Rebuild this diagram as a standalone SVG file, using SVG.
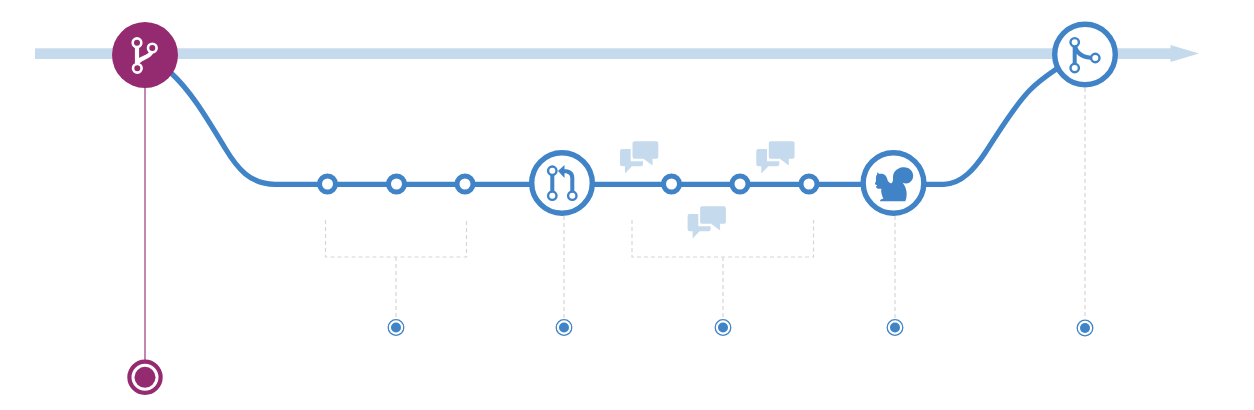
<svg xmlns="http://www.w3.org/2000/svg" width="1254" height="410" viewBox="0 0 1254 410">
<style>
.flow{fill:none;stroke:#4083c7;stroke-width:5.2}
.guide{fill:none;stroke:#d6d6d6;stroke-width:1.2;stroke-dasharray:4 3}
.commit{fill:#fff;stroke:#4083c7;stroke-width:5}
.big{fill:#fff;stroke:#4083c7;stroke-width:5.4}
.icon{fill:none;stroke:#4083c7;stroke-width:4}
.port{fill:#fff;stroke:#4083c7;stroke-width:2.400}
.chat{fill:#c6daee}
.ring{fill:#fff;stroke:#4083c7;stroke-width:1.3}
.dot{fill:#4083c7}
</style>
<defs>
<g id="chat">
<path class="chat" d="M622 149H630.700V161.300H643V164.300a2 2 0 0 1-2 2H632L625 173.500V166.300H622a2 2 0 0 1-2-2V151a2 2 0 0 1 2-2Z"/>
<path class="chat" d="M634.500 141.300H656.300a2 2 0 0 1 2 2V156.700a2 2 0 0 1-2 2H652.500V165.500L643.500 158.700H634.500a2 2 0 0 1-2-2V143.300a2 2 0 0 1 2-2Z"/>
</g>
</defs>
<g id="trunk">
<rect x="35" y="48.300" width="1137" height="10.700" fill="#c6daee"/>
<path d="M1170.500 45L1199 53.500L1170.500 62Z" fill="#c6daee"/>
</g>
<g id="connectors">
<path class="flow" d="M170 72C190 90 205 115 225 148C237 168 250 184.300 275 184.300H530"/>
<path class="flow" d="M594 184.300H862"/>
<path class="flow" d="M925 184.300H944C962 184 975 168 985 153C1000 130 1015 105 1030 90C1040 80 1048 75 1058 68"/>
<path d="M145 86V360" fill="none" stroke="#b5689f" stroke-width="1.600"/>
<path class="guide" d="M325.500 220V257H466.500V220M396 257V318"/>
<path class="guide" d="M632 220V257H813.500V220M723 257V318"/>
<path class="guide" d="M564 216V318"/>
<path class="guide" d="M895 216V318"/>
<path class="guide" d="M1085 88V319"/>
</g>
<g id="branch-node">
<circle cx="145" cy="55" r="33" fill="#942a6f"/>
<path d="M137 43V68M137 65C137 56 152 60 152.300 48" fill="none" stroke="#fff" stroke-width="4.200"/>
<circle cx="137" cy="42.700" r="4.300" fill="#942a6f" stroke="#fff" stroke-width="2.600"/>
<circle cx="152.300" cy="48" r="4.300" fill="#942a6f" stroke="#fff" stroke-width="2.600"/>
<circle cx="137.300" cy="68.300" r="4.300" fill="#942a6f" stroke="#fff" stroke-width="2.600"/>
</g>
<g id="merge-node">
<circle class="big" cx="1085" cy="54.500" r="30.300"/>
<path class="icon" d="M1074.700 42V68M1075 46C1077 55 1084 58 1095 58"/>
<circle class="port" cx="1074.700" cy="42.300" r="4.200"/>
<circle class="port" cx="1074.700" cy="68" r="4.200"/>
<circle class="port" cx="1095.300" cy="58" r="4.200"/>
</g>
<g id="commit-a"><circle class="commit" cx="327.500" cy="184" r="8"/></g>
<g id="commit-b"><circle class="commit" cx="396.500" cy="184" r="8"/></g>
<g id="commit-c"><circle class="commit" cx="465" cy="184" r="8"/></g>
<g id="pr-node">
<circle class="big" cx="562" cy="183" r="30.300"/>
<path class="icon" d="M552.300 171V196M572.300 196V178C572.300 173 569 171 563 171"/>
<path d="M558 171L564.500 165V178Z" fill="#4083c7"/>
<circle class="port" cx="552.300" cy="170.700" r="4.200"/>
<circle class="port" cx="552.300" cy="195.700" r="4.200"/>
<circle class="port" cx="572.300" cy="195.700" r="4.200"/>
</g>
<g id="commit-d"><circle class="commit" cx="671.500" cy="184" r="8"/></g>
<g id="commit-e"><circle class="commit" cx="740" cy="184" r="8"/></g>
<g id="commit-f"><circle class="commit" cx="809" cy="184" r="8"/></g>
<g id="chat-a"><use href="#chat"/></g>
<g id="chat-b"><use href="#chat" x="136.300"/></g>
<g id="chat-c"><use href="#chat" x="67.600" y="65"/></g>
<g id="deploy-node">
<circle class="big" cx="893.500" cy="183" r="30.300"/>
<path fill="#4083c7" transform="translate(868 160) scale(.3333)" d="M28 37L34 42C46 38 56 46 58 58C60 68 68 72 72 68C78 60 72 50 78 38C86 24 105 18 120 24C134 30 140 48 132 60C125 72 112 72 104 68C116 82 120 105 112 124L36 124C36 119 40 116 46 116C42 106 38 96 40 86L30 86C24 84 22 80 28 76C20 74 20 70 22 68L24 62C23 54 24 46 27 44Z"/>
</g>
<g id="end-node">
<circle cx="145" cy="377.300" r="15.600" fill="#fff" stroke="#942a6f" stroke-width="4.200"/>
<circle cx="145" cy="377.300" r="10.500" fill="#942a6f"/>
</g>
<g id="label-a"><circle class="ring" cx="396" cy="327.500" r="7.800"/><circle class="dot" cx="396" cy="327.500" r="5"/></g>
<g id="label-b"><circle class="ring" cx="564" cy="327.500" r="7.800"/><circle class="dot" cx="564" cy="327.500" r="5"/></g>
<g id="label-c"><circle class="ring" cx="723" cy="327.500" r="7.800"/><circle class="dot" cx="723" cy="327.500" r="5"/></g>
<g id="label-d"><circle class="ring" cx="895" cy="327.500" r="7.800"/><circle class="dot" cx="895" cy="327.500" r="5"/></g>
<g id="label-e"><circle class="ring" cx="1085" cy="328" r="7.800"/><circle class="dot" cx="1085" cy="328" r="5"/></g>
</svg>
